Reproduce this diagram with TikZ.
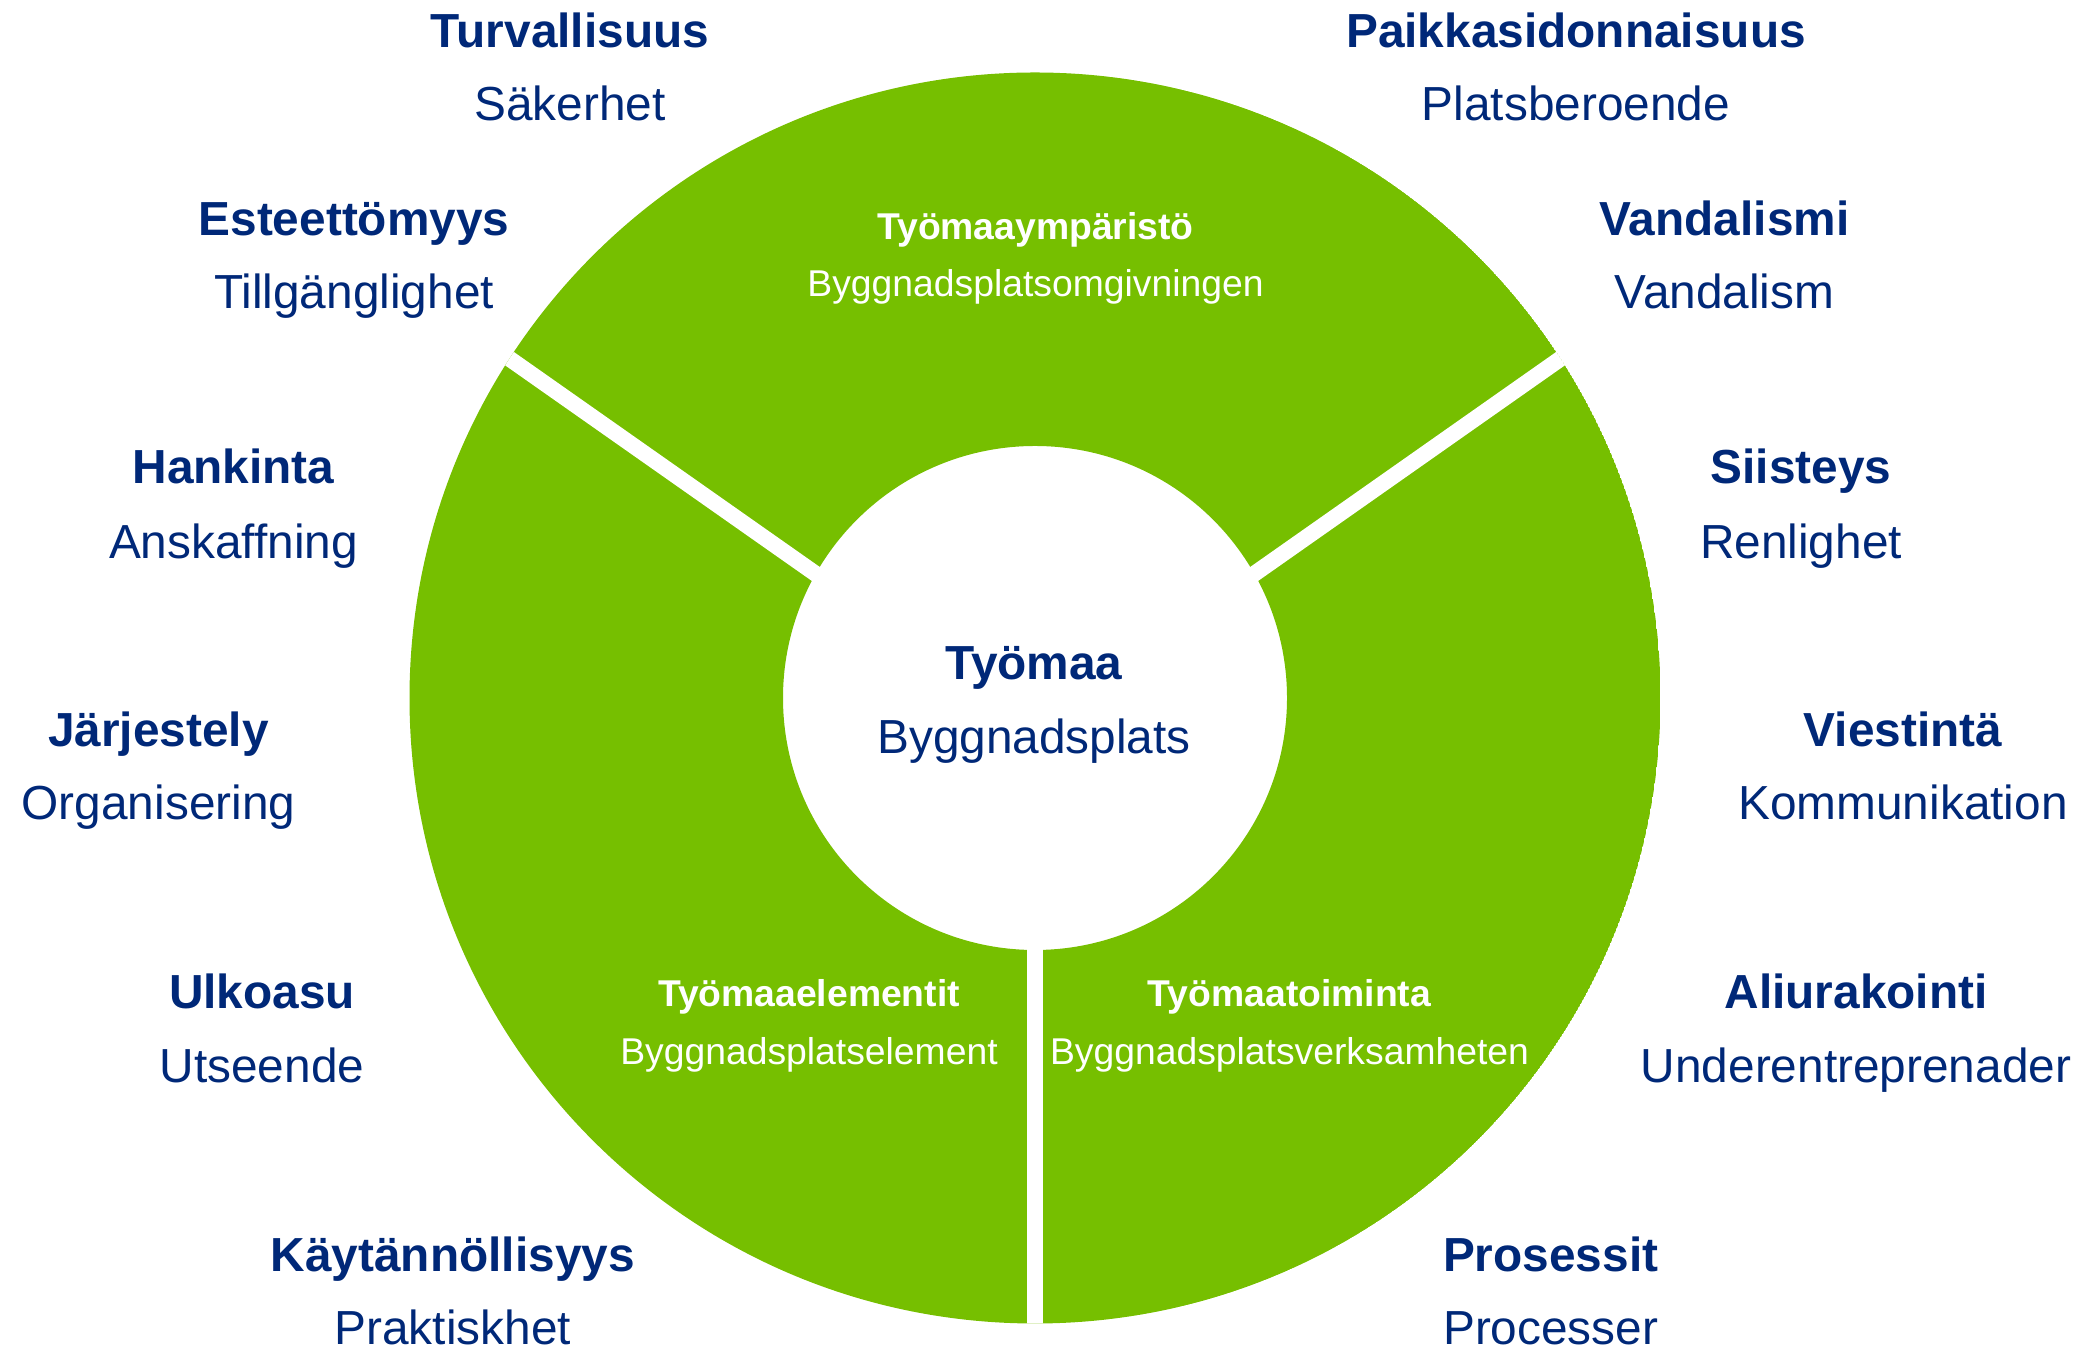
\documentclass[tikz,border=0pt]{standalone}
\usepackage{fontspec}
\setmainfont{Liberation Sans}
\definecolor{ringgreen}{RGB}{118,191,0}
\definecolor{navy}{RGB}{0,40,120}
\begin{document}
\begin{tikzpicture}[x=1pt,y=1pt,
  head/.style={anchor=base, inner sep=0pt, text=navy, font=\fontsize{47.8}{50}\selectfont\bfseries},
  sub/.style={anchor=base, inner sep=0pt, text=navy, font=\fontsize{47.8}{50}\selectfont},
  whead/.style={anchor=base, inner sep=0pt, text=white, font=\fontsize{37.3}{40}\selectfont\bfseries},
  wsub/.style={anchor=base, inner sep=0pt, text=white, font=\fontsize{37.3}{40}\selectfont},
  gapline/.style={white, line width=16pt}
]
\useasboundingbox (0,0) rectangle (2080,1351);
\coordinate (C) at (1035,653);
\coordinate (P) at (1035,623);
\begin{scope}
  \clip (C) circle[radius=625.5pt];
  \fill[ringgreen, even odd rule] (C) circle[radius=625.5pt] (C) circle[radius=252pt];
  \draw[gapline] (P) -- ++(35.1:800pt);
  \draw[gapline] (P) -- ++(144.9:800pt);
  \draw[gapline] (P) -- ++(270:800pt);
\end{scope}

% centre
\node[head] (tyomaa) at (1034,671) {Työmaa};
\node[sub] (byggplats) at (1034,597) {Byggnadsplats};

% segment labels
\node[whead] (ymp) at (1035.5,1111) {Työmaaympäristö};
\node[wsub] (ympsv) at (1035.5,1054) {Byggnadsplatsomgivningen};
\node[whead] (elem) at (809,344) {Työmaaelementit};
\node[wsub] (elemsv) at (809,286) {Byggnadsplatselement};
\node[whead] (toim) at (1289.5,344) {Työmaatoiminta};
\node[wsub] (toimsv) at (1289.5,286) {Byggnadsplatsverksamheten};

% outer labels, left
\node[head] (turv) at (570,1303) {Turvallisuus};
\node[sub] (saker) at (570,1230) {Säkerhet};
\node[head] (este) at (354,1115) {Esteettömyys};
\node[sub] (tillg) at (354,1042) {Tillgänglighet};
\node[head] (hank) at (233.5,867.5) {Hankinta};
\node[sub] (ansk) at (233.5,792.5) {Anskaffning};
\node[head] (jarj) at (158.5,604.5) {Järjestely};
\node[sub] (org) at (158.5,531) {Organisering};
\node[head] (ulko) at (262,342.5) {Ulkoasu};
\node[sub] (utse) at (262,268.5) {Utseende};
\node[head] (kayt) at (452.8,79.2) {Käytännöllisyys};
\node[sub] (prakt) at (452.8,6.5) {Praktiskhet};

% outer labels, right
\node[head] (paik) at (1576,1303) {Paikkasidonnaisuus};
\node[sub] (plats) at (1576,1230) {Platsberoende};
\node[head] (vand) at (1724.5,1115) {Vandalismi};
\node[sub] (vandsv) at (1724.5,1042) {Vandalism};
\node[head] (siis) at (1801,867.5) {Siisteys};
\node[sub] (renl) at (1801,792.5) {Renlighet};
\node[head] (vies) at (1903,604.5) {Viestintä};
\node[sub] (komm) at (1903,531) {Kommunikation};
\node[head] (aliu) at (1856,342.5) {Aliurakointi};
\node[sub] (under) at (1856,268.5) {Underentreprenader};
\node[head] (pros) at (1550.7,79.2) {Prosessit};
\node[sub] (proc) at (1550.7,6.5) {Processer};
\end{tikzpicture}
\end{document}
